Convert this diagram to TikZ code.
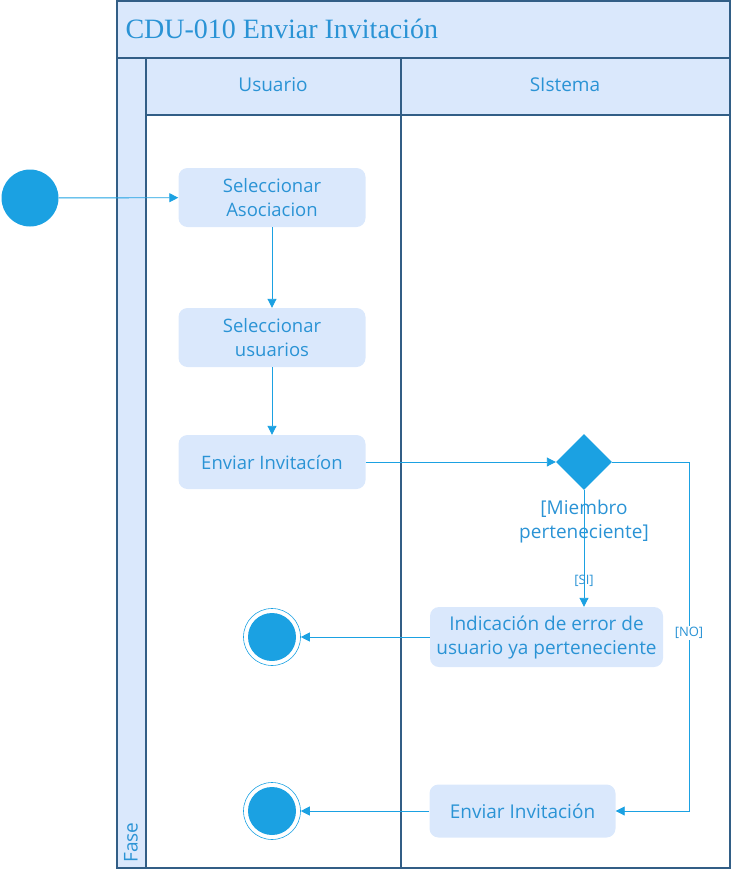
\documentclass[tikz,border=0pt]{standalone}
\usepackage{fontspec}
\setmainfont{Open Sans}
\newfontfamily\titlefont{Liberation Serif}
\usetikzlibrary{positioning,shapes.geometric,arrows.meta}

\definecolor{lanefill}{HTML}{DAE8FC}
\definecolor{laneline}{HTML}{325E86}
\definecolor{flowblue}{HTML}{1BA1E2}
\definecolor{textblue}{HTML}{2A93D5}

\tikzset{
  activity/.style={rectangle, rounded corners=9pt, fill=lanefill, text=textblue,
    align=center, inner sep=0pt, font=\fontsize{18.5}{24}\selectfont},
  startstate/.style={circle, fill=flowblue, minimum size=57pt, inner sep=0pt},
  endstate/.style={circle, draw=flowblue, line width=0.6pt, minimum size=57pt, inner sep=0pt,
    path picture={\fill[flowblue] (path picture bounding box.center) circle (24pt);}},
  decision/.style={diamond, fill=flowblue, minimum size=56pt, inner sep=0pt},
  flow/.style={draw=flowblue, line width=0.9pt, -{Triangle[length=9pt,width=9pt]}},
  guard/.style={text=textblue, inner sep=1pt},
  lanetext/.style={text=textblue, font=\fontsize{19}{22}\selectfont}
}

\begin{document}
\begin{tikzpicture}[x=1pt,y=-1pt]
\useasboundingbox (0,0) rectangle (732,876);
% swimlane frame
\fill[lanefill] (117,1) rectangle (730,115);
\fill[lanefill] (117,58) rectangle (146,868);
\draw[laneline, line width=1.2pt] (117,1) rectangle (730,868);
\draw[laneline, line width=1.2pt] (117,58) -- (730,58);
\draw[laneline, line width=1.2pt] (146,58) -- (146,868);
\draw[laneline, line width=1.2pt] (146,115) -- (730,115);
\draw[laneline, line width=1.2pt] (401,58) -- (401,868);
\node[anchor=west, text=textblue, font=\titlefont\fontsize{28}{32}\selectfont] (title) at (122,29) {CDU-010 Enviar Invitación};
\node[lanetext] (usuario) at (273,85) {Usuario};
\node[lanetext] (sistema) at (565,85) {SIstema};
\node[lanetext, rotate=90, anchor=west] (fase) at (131,866) {Fase};

% states
\node[startstate] (start) at (30,198) {};
\node[activity, minimum width=187pt, minimum height=59pt] (selasoc) at (272,197.5) {Seleccionar\\Asociacion};
\node[activity, minimum width=187pt, minimum height=59pt] (selusr) at (272,337.5) {Seleccionar\\usuarios};
\node[activity, minimum width=187pt, minimum height=54pt] (enviar) at (272,462) {Enviar Invitacíon};
\node[decision] (check) at (584,462) {};
\node[guard, font=\fontsize{19}{24}\selectfont, align=center] (miembro) at (584,522) {[Miembro\\perteneciente]};
\node[activity, minimum width=233pt, minimum height=60pt, font=\fontsize{19}{24}\selectfont] (error) at (546.5,637) {Indicación de error de\\usuario ya perteneciente};
\node[activity, minimum width=186pt, minimum height=53pt, font=\fontsize{19}{24}\selectfont] (invita) at (522.5,811) {Enviar Invitación};
\node[endstate] (fin1) at (272,637) {};
\node[endstate] (fin2) at (272,811) {};
\coordinate (noup) at (689,462);
\coordinate (nodown) at (689,811);

% transitions
\draw[flow] (start) -- (selasoc);
\draw[flow] (selasoc) -- (selusr);
\draw[flow] (selusr) -- (enviar);
\draw[flow] (enviar) -- (check);
\draw[flow] (check) -- node[guard, pos=0.78, font=\fontsize{13}{15}\selectfont] {[SI]} (check |- error.north);
\draw[flow] (check.east) -- (noup) -- node[guard, fill=white, pos=0.49, font=\fontsize{13}{15}\selectfont] {[NO]} (nodown) -- (invita);
\draw[flow] (error) -- (fin1);
\draw[flow] (invita) -- (fin2);
\end{tikzpicture}
\end{document}
